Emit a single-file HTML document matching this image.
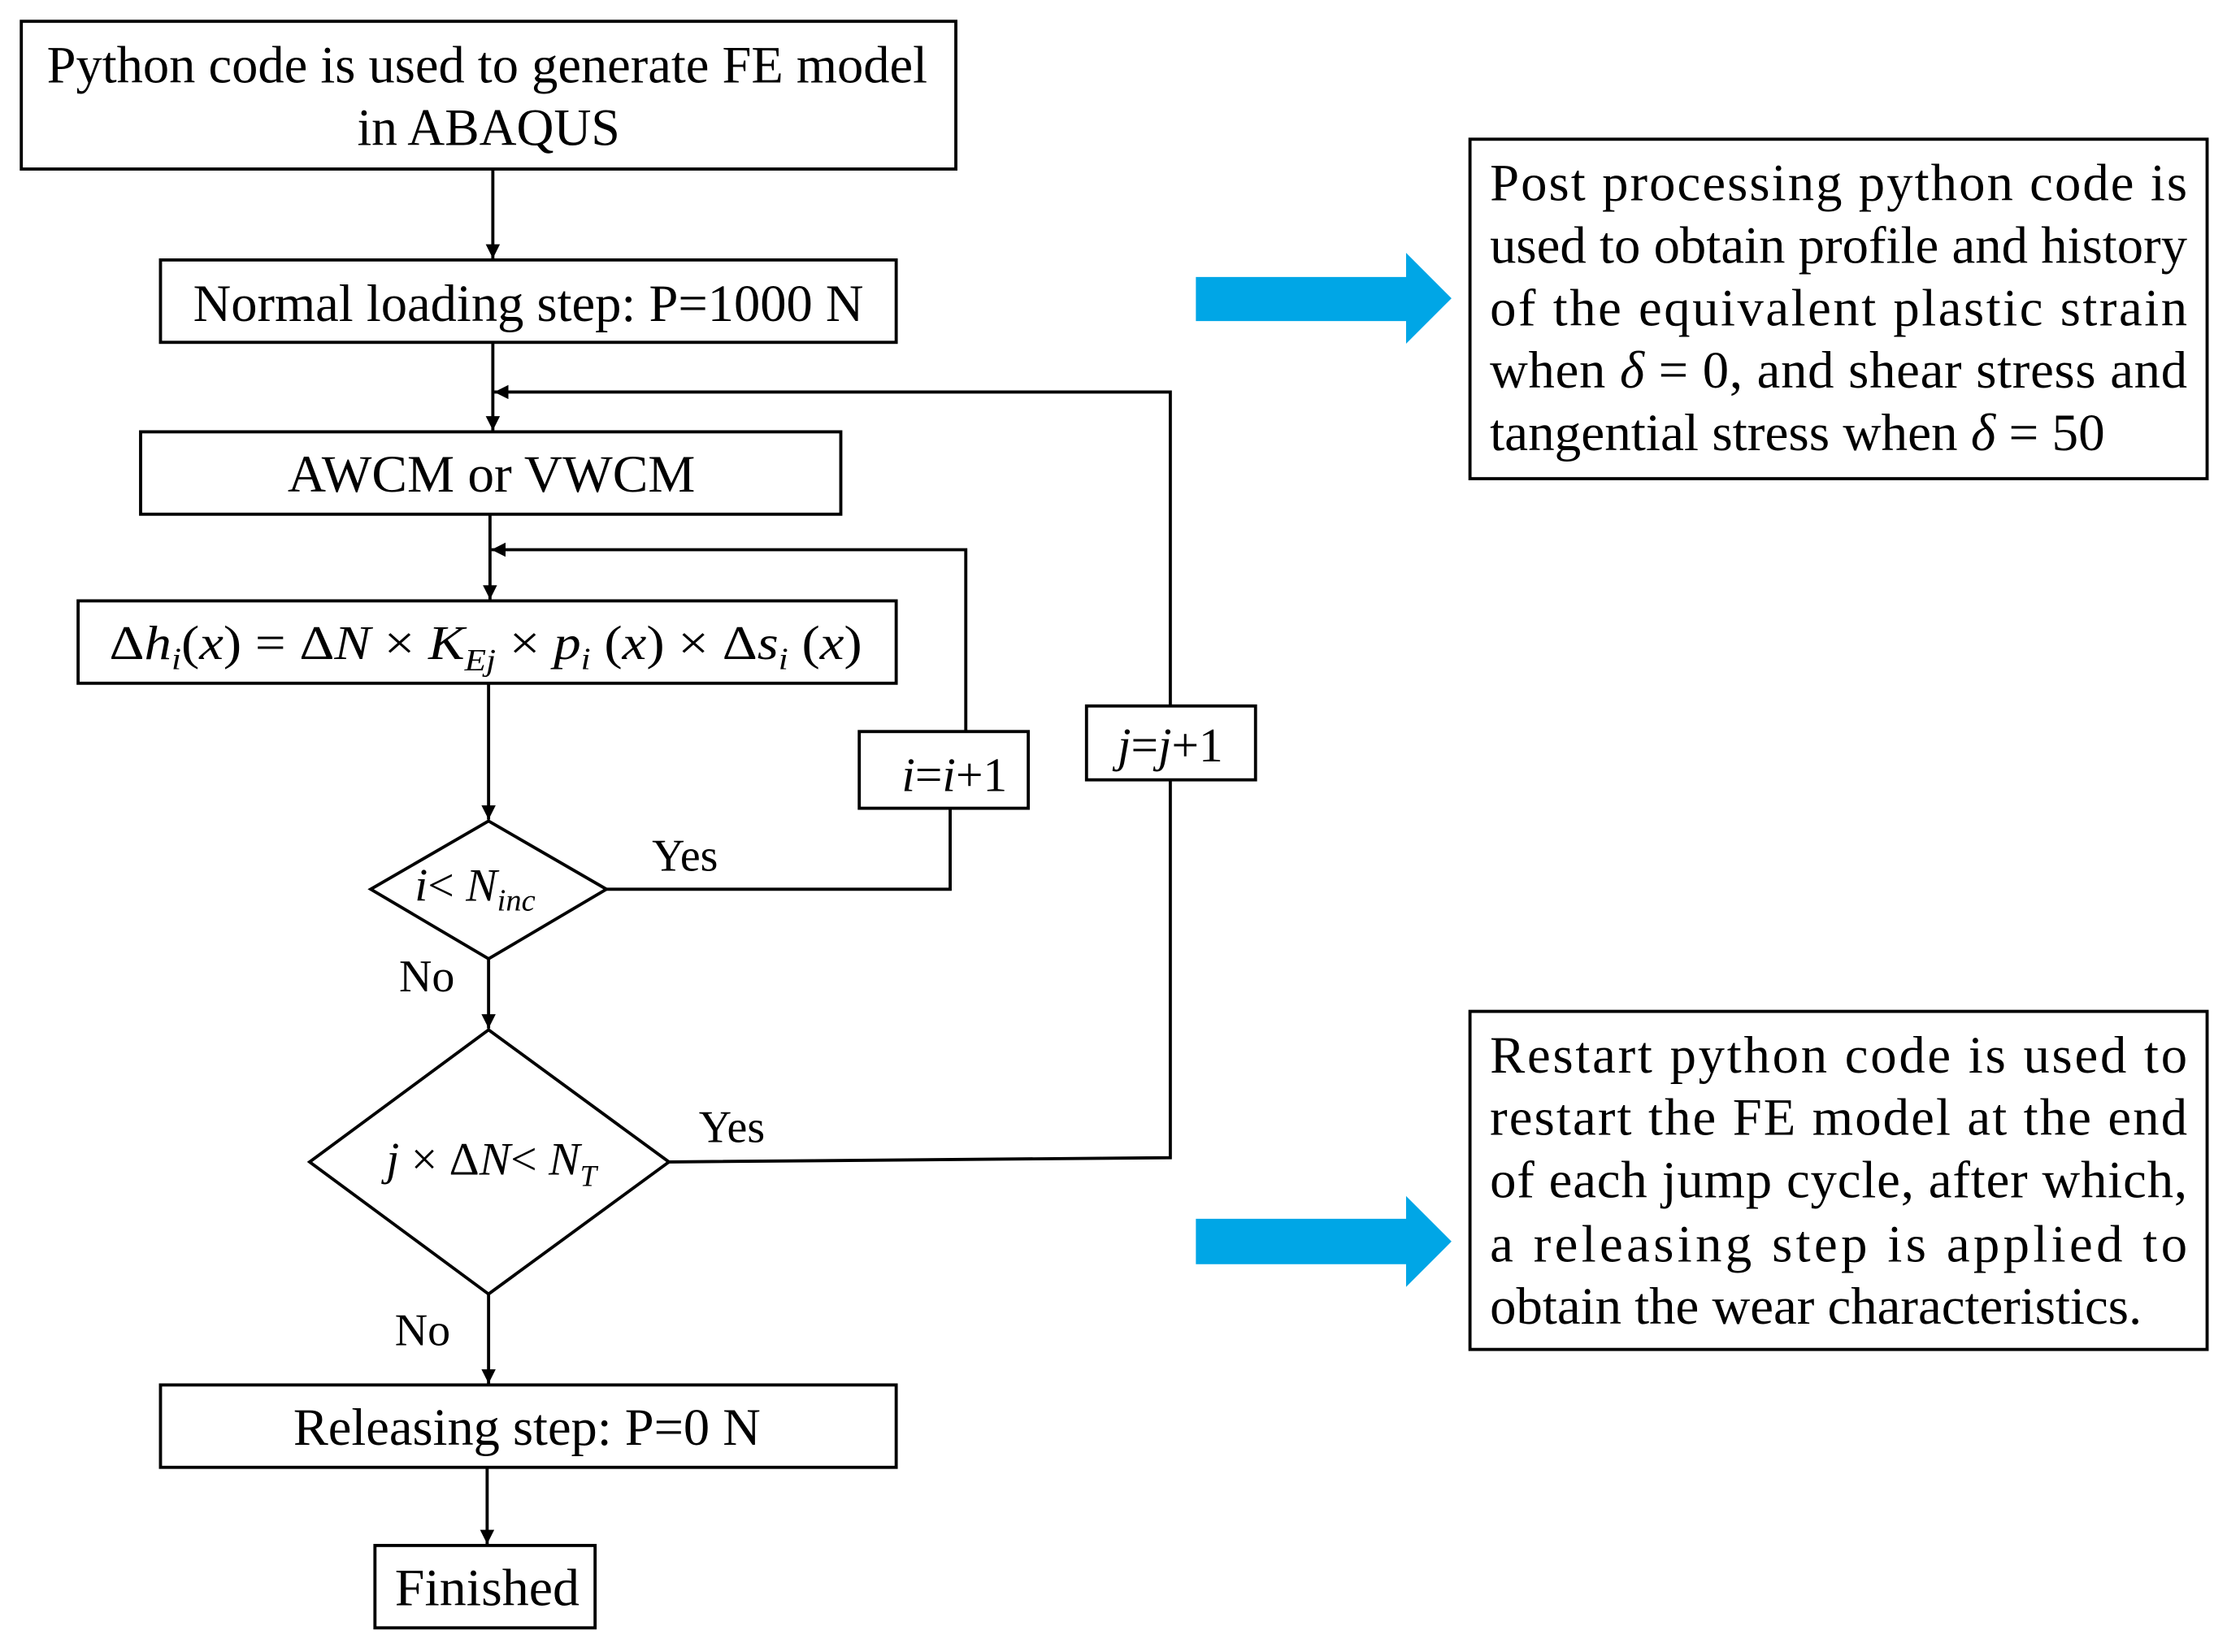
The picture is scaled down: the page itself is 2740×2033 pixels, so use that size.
<!DOCTYPE html>
<html><head><meta charset="utf-8"><style>
html,body{margin:0;padding:0;background:#fff}
svg{display:block}
text{font-family:"Liberation Serif",serif;fill:#000}
</style></head><body>
<svg width="2740" height="2033" viewBox="0 0 1568 1163" preserveAspectRatio="none" xmlns="http://www.w3.org/2000/svg">
<defs>
<marker id="ah" markerWidth="12" markerHeight="12" refX="10" refY="5" orient="auto" markerUnits="userSpaceOnUse">
<path d="M0,0 L10,5 L0,10 z" fill="#000"/>
</marker>
</defs>
<g fill="none" stroke="#000" stroke-width="2.2">
<rect x="15" y="15" width="658" height="104"/>
<rect x="113" y="183" width="518" height="58"/>
<rect x="99" y="304" width="493" height="58"/>
<rect x="55" y="423" width="576" height="58"/>
<rect x="605" y="515" width="119" height="54"/>
<rect x="765" y="497" width="119" height="52"/>
<rect x="113" y="975" width="518" height="58"/>
<rect x="264" y="1088" width="155" height="58"/>
<rect x="1035" y="98" width="519" height="239"/>
<rect x="1035" y="712" width="519" height="238"/>
<polygon points="344,578 427,626 344,675 261,626"/>
<polygon points="344,725 471,818 344,911 218,818"/>
<line x1="347" y1="119" x2="347" y2="182" marker-end="url(#ah)"/>
<line x1="347" y1="241" x2="347" y2="303" marker-end="url(#ah)"/>
<polyline points="824,497 824,276 348,276" marker-end="url(#ah)"/>
<line x1="345" y1="362" x2="345" y2="422" marker-end="url(#ah)"/>
<polyline points="680,515 680,387 346,387" marker-end="url(#ah)"/>
<line x1="344" y1="481" x2="344" y2="577" marker-end="url(#ah)"/>
<polyline points="427,626 669,626 669,569"/>
<line x1="344" y1="675" x2="344" y2="724" marker-end="url(#ah)"/>
<polyline points="471,818 824,815 824,549"/>
<line x1="344" y1="911" x2="344" y2="974" marker-end="url(#ah)"/>
<line x1="343" y1="1033" x2="343" y2="1087" marker-end="url(#ah)"/>
</g>
<polygon points="842,195 990,195 990,178 1022,210 990,242 990,226 842,226" fill="#00a6e6"/>
<polygon points="842,858 990,858 990,842 1022,874 990,906 990,890 842,890" fill="#00a6e6"/>
<g font-size="37" text-anchor="middle">
<text x="343" y="58" textLength="620" lengthAdjust="spacingAndGlyphs">Python code is used to generate FE model</text>
<text x="344" y="102" textLength="185" lengthAdjust="spacingAndGlyphs">in ABAQUS</text>
<text x="372" y="226" textLength="472" lengthAdjust="spacingAndGlyphs">Normal loading step: P=1000 N</text>
<text x="346" y="346" textLength="287" lengthAdjust="spacingAndGlyphs">AWCM or VWCM</text>
<text x="371" y="1017" textLength="329" lengthAdjust="spacingAndGlyphs">Releasing step: P=0 N</text>
<text x="343" y="1130" textLength="130" lengthAdjust="spacingAndGlyphs">Finished</text>
<text x="672" y="557" font-size="34"><tspan font-style="italic">i</tspan>=<tspan font-style="italic">i</tspan>+1</text>
<text x="824" y="536" font-size="34"><tspan font-style="italic">j</tspan>=<tspan font-style="italic">j</tspan>+1</text>
</g>
<g font-size="32">
<text x="459" y="613">Yes</text>
<text x="281" y="698">No</text>
<text x="492" y="804">Yes</text>
<text x="278" y="947">No</text>
</g>
<text x="292" y="634" font-size="33" font-style="italic">i<tspan font-style="normal">&lt; </tspan>N<tspan font-size="22" dy="7">inc</tspan></text>
<text x="272" y="827" font-size="33"><tspan font-style="italic">j</tspan> × Δ<tspan font-style="italic">N</tspan>&lt; <tspan font-style="italic">N</tspan><tspan font-size="21" font-style="italic" dy="8">T</tspan></text>
<text x="77" y="464" font-size="34" font-family="'DejaVu Serif',serif" textLength="530" lengthAdjust="spacingAndGlyphs">Δ<tspan font-style="italic">h</tspan><tspan font-style="italic" font-size="22" dy="7">i</tspan><tspan dy="-7">(</tspan><tspan font-style="italic">x</tspan>) = Δ<tspan font-style="italic">N</tspan> × <tspan font-style="italic">K</tspan><tspan font-style="italic" font-size="22" dy="8">Ej</tspan><tspan dy="-8"> × </tspan><tspan font-style="italic">p</tspan><tspan font-style="italic" font-size="22" dy="7">i</tspan><tspan dy="-7"> (</tspan><tspan font-style="italic">x</tspan>) × Δ<tspan font-style="italic">s</tspan><tspan font-style="italic" font-size="22" dy="7">i</tspan><tspan dy="-7"> (</tspan><tspan font-style="italic">x</tspan>)</text>
<g font-size="37">
<text x="1049" y="141" textLength="491" lengthAdjust="spacing">Post processing python code is</text>
<text x="1049" y="185" textLength="491" lengthAdjust="spacing">used to obtain profile and history</text>
<text x="1049" y="229" textLength="491" lengthAdjust="spacing">of the equivalent plastic strain</text>
<text x="1049" y="273" textLength="491" lengthAdjust="spacing">when <tspan font-style="italic">δ</tspan> = 0, and shear stress and</text>
<text x="1049" y="317" textLength="433" lengthAdjust="spacingAndGlyphs">tangential stress when <tspan font-style="italic">δ</tspan> = 50</text>
<text x="1049" y="755" textLength="491" lengthAdjust="spacing">Restart python code is used to</text>
<text x="1049" y="799" textLength="491" lengthAdjust="spacing">restart the FE model at the end</text>
<text x="1049" y="843" textLength="491" lengthAdjust="spacing">of each jump cycle, after which,</text>
<text x="1049" y="888" textLength="491" lengthAdjust="spacing">a releasing step is applied to</text>
<text x="1049" y="932" textLength="459" lengthAdjust="spacingAndGlyphs">obtain the wear characteristics.</text>
</g>
</svg>
</body></html>
